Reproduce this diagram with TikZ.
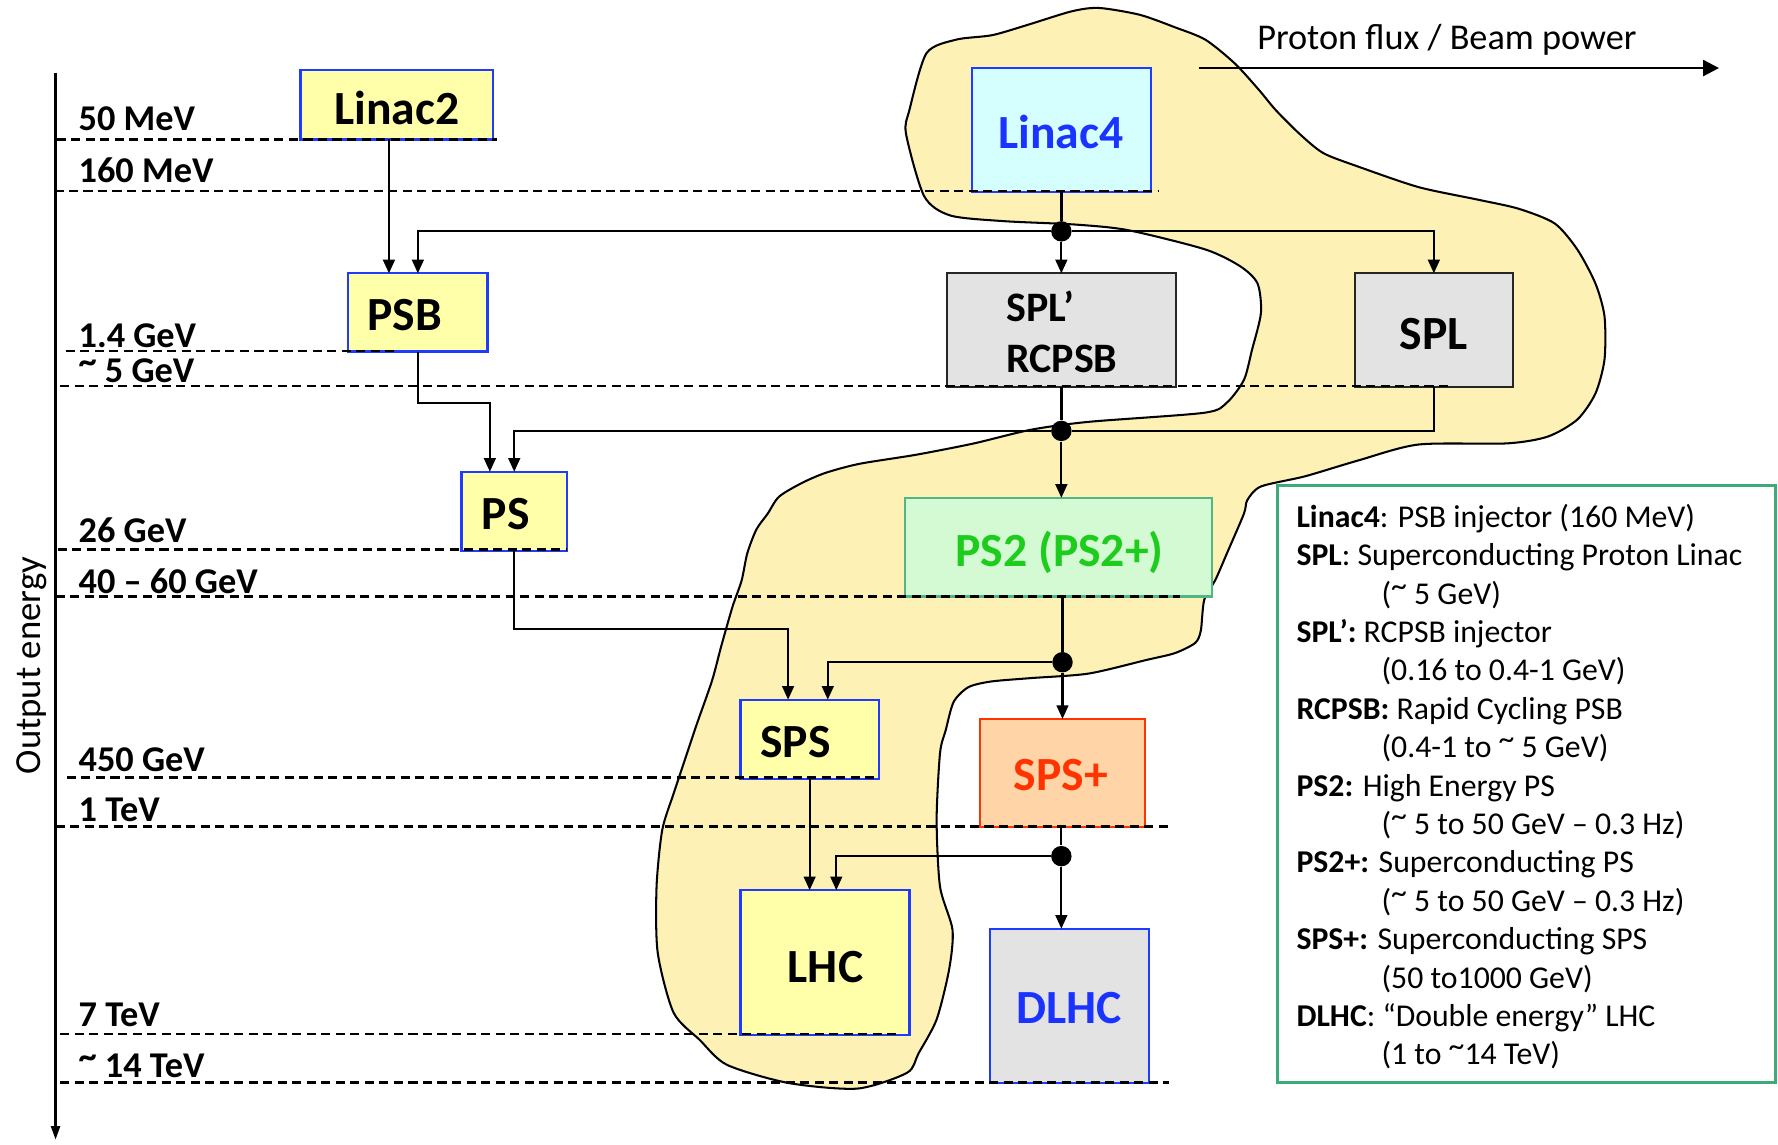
\documentclass[tikz,border=0pt]{standalone}
\usepackage{fontspec}
\setmainfont{Carlito}
\usetikzlibrary{arrows.meta,calc}

\definecolor{boxyellow}{HTML}{FFFFAA}
\definecolor{boxblue}{HTML}{1F3BFF}
\definecolor{linaccyan}{HTML}{D5FFFF}
\definecolor{boxgray}{HTML}{E3E3E3}
\definecolor{ps2fill}{HTML}{D4FAD4}
\definecolor{ps2border}{HTML}{52B585}
\definecolor{ps2text}{HTML}{1ECC1E}
\definecolor{spspfill}{HTML}{FFD5A8}
\definecolor{spsptext}{HTML}{FF3300}
\definecolor{blobfill}{HTML}{FDF1B5}
\definecolor{legborder}{HTML}{3DAA7A}
\definecolor{textblue}{HTML}{1A33FF}
\newcommand{\tld}{\raisebox{0.25em}{\textasciitilde}}

\begin{document}
\begin{tikzpicture}[x=0.5pt,y=-0.5pt,
  box/.style={draw, line width=1pt, inner sep=0pt, outer sep=0pt},
  ybox/.style={box, draw=boxblue, fill=boxyellow},
  gbox/.style={box, draw=black!85, fill=boxgray},
  lbl/.style={font=\fontsize{21}{25}\selectfont\bfseries, anchor=base, inner sep=0pt},
  elbl/.style={font=\fontsize{16}{19}\selectfont\bfseries, anchor=base west, inner sep=0pt},
  elevel/.style={dash pattern=on 4pt off 2.4pt, line width=1.05pt},
  wire/.style={line width=0.9pt},
  conn/.style={wire, -{Triangle[length=6pt,width=5.2pt]}},
  jdot/.style={circle, fill=black, inner sep=0pt, minimum size=9pt},
  leg/.style={font=\fontsize{14}{16}\selectfont, anchor=base west, inner sep=0pt},
]
\useasboundingbox (0,0) rectangle (1568,1009);

% blob
\draw[line width=0.9pt, fill=blobfill] plot[smooth cycle, tension=0.45] coordinates {
(969,7) (1005,13) (1036,24) (1063,35) (1089,56) (1110,79) (1125,97) (1146,118) (1167,135) (1198,147) (1251,165) (1303,176) (1339,184) (1371,197) (1391,220) (1407,250) (1415,279) (1415,317) (1407,347) (1391,370) (1365,385) (1329,391) (1251,392) (1198,406) (1151,420) (1112,429) (1100,441) (1097,453) (1082,488) (1072,511) (1062,529) (1059,556) (1054,567) (1036,576) (1011,582) (960,594) (909,598) (874,601) (854,606) (841,619) (834,644) (829,664) (826,723) (829,782) (840,820) (837,855) (826,899) (810,929) (800,946) (756,960) (695,955) (641,939) (617,917) (594,893) (580,840) (579,782) (584,732) (594,700) (604,670) (614,640) (628,600) (636,570) (646,535) (654,512) (659,488) (667,467) (677,453) (687,438) (707,426) (728,417) (758,409) (808,401) (859,391) (909,379) (960,372) (1062,364) (1082,355) (1097,335) (1104,309) (1112,276) (1109,250) (1094,235) (1063,220) (995,203) (948,198) (885,195) (838,190) (815,173) (799,118) (802,97) (817,47) (843,35) (875,31) (906,22) (945,10)};

% boxes
\node[ybox, minimum width=85pt, minimum height=30.5pt] (linac2) at (350,92.5) {};
\node[box, draw=boxblue, fill=linaccyan, minimum width=79pt, minimum height=54.5pt] (linac4) at (936,114.5) {};
\node[ybox, minimum width=61.5pt, minimum height=34.5pt] (psb) at (368.5,275.5) {};
\node[gbox, minimum width=101pt, minimum height=50pt] (splp) at (936,291) {};
\node[gbox, minimum width=69.5pt, minimum height=50pt] (spl) at (1264.5,291) {};
\node[ybox, minimum width=46.5pt, minimum height=35pt] (ps) at (453.5,451) {};
\node[box, draw=ps2border, fill=ps2fill, minimum width=135.5pt, minimum height=43.5pt] (ps2) at (933.5,482.5) {};
\node[ybox, minimum width=61pt, minimum height=35pt] (sps) at (714,652) {};
\node[box, draw=spsptext, fill=spspfill, minimum width=73pt, minimum height=47.5pt] (spsp) at (937,681.5) {};
\node[ybox, minimum width=74.5pt, minimum height=64pt] (lhc) at (727.5,849) {};
\node[box, draw=boxblue, fill=boxgray, minimum width=70pt, minimum height=68pt] (dlhc) at (943,887) {};
\node[draw=legborder, line width=1.3pt, inner sep=0pt, minimum width=219.5pt, minimum height=263.5pt] (legend) at (1346.5,691.5) {};

% energy levels
\foreach \yy/\xa/\xb in {123/50/438, 168.7/48/1022, 309.3/58/348, 340.4/53/1281, 484.5/51/500, 526/49/1041, 685.5/59/775, 729/49/1031, 912/53/790, 954.5/53/1031}
  \draw[elevel] (\xa,\yy) -- (\xb,\yy);

\node[elbl] (e1) at (69,115) {50 MeV};
\node[elbl] (e2) at (69,161) {160 MeV};
\node[elbl] (e3) at (69,306.5) {1.4 GeV};
\node[elbl] (e4) at (69,337.5) {\tld\ 5 GeV};
\node[elbl] (e5) at (69,478) {26 GeV};
\node[elbl] (e6) at (69,523) {40 – 60 GeV};
\node[elbl] (e7) at (69,680) {450 GeV};
\node[elbl] (e8) at (69,724.5) {1 TeV};
\node[elbl] (e9) at (69,905) {7 TeV};
\node[elbl] (e10) at (69,950) {\tld\ 14 TeV};

% axis
\coordinate (ax1) at (49,64);
\coordinate (ax2) at (49,1005);
\draw[line width=1pt, -{Triangle[length=6pt,width=4pt]}] (ax1) -- (ax2);
\node[rotate=90, font=\fontsize{16.2}{19}\selectfont, inner sep=0pt] (axT) at (28,587) {Output energy};

% box labels
\node[lbl] (linac2T) at (350,109.5) {Linac2};
\node[lbl, text=textblue] (linac4T) at (935.6,130.8) {Linac4};
\node[lbl] (psbT) at (357,291.6) {PSB};
\node[lbl, anchor=base west, font=\fontsize{18.5}{22}\selectfont\bfseries] (splpT1) at (887,283.7) {SPL’};
\node[lbl, anchor=base west, font=\fontsize{18.5}{22}\selectfont\bfseries] (splpT2) at (887,328.3) {RCPSB};
\node[lbl] (splT) at (1264.6,308.6) {SPL};
\node[lbl] (psT) at (446,466.8) {PS};
\node[lbl, text=ps2text] (ps2T) at (934.4,499.7) {PS2 (PS2+)};
\node[lbl] (spsT) at (701.5,668) {SPS};
\node[lbl, text=spsptext] (spspT) at (935.5,697.3) {SPS+};
\node[lbl] (lhcT) at (728,866.6) {LHC};
\node[lbl, text=textblue] (dlhcT) at (942.6,903) {DLHC};

% junction dots
\node[jdot] (d1) at (936,204) {};
\node[jdot] (d2) at (936,380) {};
\node[jdot] (d3) at (937,584) {};
\node[jdot] (d4) at (936,755) {};

% connectors
\coordinate (a1) at ([xshift=-3.5pt]linac2.south);
\draw[conn, line width=1.1pt] (a1) -- (a1 |- psb.north);
\draw[wire, line width=1.1pt] (linac4.south) -- (d1);
\draw[conn] (d1) -- (d1 |- splp.north);
\draw[conn] (d1) -| (psb.north);
\draw[conn] (d1) -| (spl.north);
\coordinate (a5) at ([xshift=-10.75pt]ps.north);
\draw[conn] (psb.south) -- ++(0,45) -| (a5);
\draw[wire, line width=1.1pt] (splp.south) -- (d2);
\draw[conn] (d2) -- (d2 |- ps2.north);
\draw[wire] (spl.south) |- (d2);
\draw[conn] (d2) -| (ps.north);
\coordinate (a9) at ([xshift=-9.5pt]sps.north);
\draw[conn] (ps.south) -- ++(0,69) -| (a9);
\draw[wire] (d3 |- ps2.south) -- (d3);
\draw[conn] (d3) -- (d3 |- spsp.north);
\coordinate (a11) at ([xshift=8pt]sps.north);
\draw[conn] (d3) -| (a11);
\draw[conn] (sps.south) -- (sps.south |- lhc.north);
\draw[wire] (d4 |- spsp.south) -- (d4);
\draw[conn] (d4) -- (d4 |- dlhc.north);
\coordinate (a14) at ([xshift=5pt]lhc.north);
\draw[conn] (d4) -| (a14);

% proton flux arrow
\coordinate (pf1) at (1057,60);
\coordinate (pf2) at (1516,60);
\draw[line width=1.1pt, -{Triangle[length=7pt,width=7pt]}] (pf1) -- (pf2);
\node[font=\fontsize{16}{19}\selectfont, anchor=base, inner sep=0pt] (pfT) at (1276,44) {Proton flux / Beam power};

% legend text
\node[leg] (l1) at (1143,465) {\textbf{Linac4}: PSB injector (160 MeV)};
\node[leg] (l2) at (1143,498.9) {\textbf{SPL}: Superconducting Proton Linac};
\node[leg] (l3) at (1218,532.7) {(\tld\ 5 GeV)};
\node[leg] (l4) at (1143,566.6) {\textbf{SPL’:} RCPSB injector};
\node[leg] (l5) at (1218,600.4) {(0.16 to 0.4-1 GeV)};
\node[leg] (l6) at (1143,634.3) {\textbf{RCPSB:} Rapid Cycling PSB};
\node[leg] (l7) at (1218,668.2) {(0.4-1 to \tld\ 5 GeV)};
\node[leg] (l8) at (1143,702) {\textbf{PS2:} High Energy PS};
\node[leg] (l9) at (1218,735.9) {(\tld\ 5 to 50 GeV – 0.3 Hz)};
\node[leg] (l10) at (1143,769.7) {\textbf{PS2+:} Superconducting PS};
\node[leg] (l11) at (1218,803.6) {(\tld\ 5 to 50 GeV – 0.3 Hz)};
\node[leg] (l12) at (1143,837.5) {\textbf{SPS+:} Superconducting SPS};
\node[leg] (l13) at (1218,871.3) {(50 to1000 GeV)};
\node[leg] (l14) at (1143,905.2) {\textbf{DLHC}: “Double energy” LHC};
\node[leg] (l15) at (1218,939) {(1 to \tld14 TeV)};
\end{tikzpicture}
\end{document}
